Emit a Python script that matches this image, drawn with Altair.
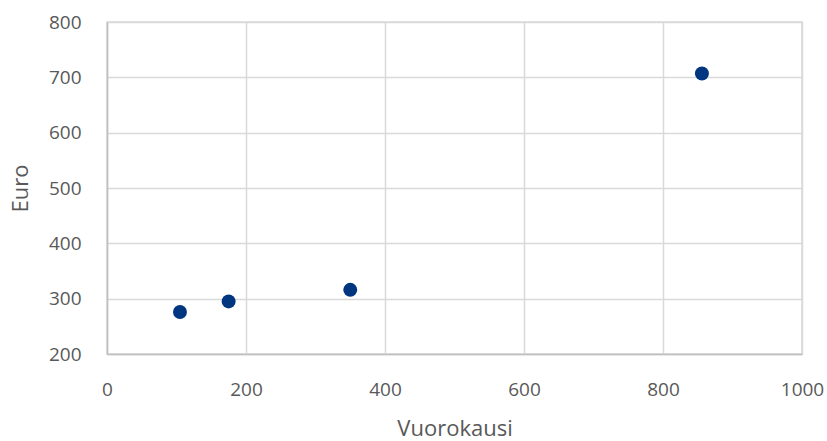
import altair as alt
import pandas as pd

# Length of stay (days) and cost (euro)
vuorokausi = [105, 175, 350, 856]
euro = [276, 295, 316, 707]

df = pd.DataFrame({"Vuorokausi": vuorokausi, "Euro": euro})

font = "Open Sans"
label_color = "#595959"

chart = (
    alt.Chart(df)
    .mark_circle(size=195, color="#003580", opacity=1)
    .encode(
        x=alt.X(
            "Vuorokausi:Q",
            scale=alt.Scale(domain=[0, 1000], nice=False),
            axis=alt.Axis(values=[0, 200, 400, 600, 800, 1000], title="Vuorokausi",
                          format="d", titlePadding=19, labelFlush=False),
        ),
        y=alt.Y(
            "Euro:Q",
            scale=alt.Scale(domain=[200, 800], nice=False, zero=False),
            axis=alt.Axis(values=[200, 300, 400, 500, 600, 700, 800], title="Euro",
                          format="d", titlePadding=16),
        ),
    )
    .properties(
        width=695,
        height=332,
        background="white",
        autosize=alt.AutoSizeParams(type="none"),
        padding={"left": 107, "top": 22, "right": 25, "bottom": 87},
    )
    .configure_view(stroke="#d9d9d9", strokeWidth=1.5)
    .configure_axis(
        grid=True,
        gridColor="#d9d9d9",
        gridWidth=1.5,
        domainColor="#bfbfbf",
        domainWidth=1.5,
        ticks=False,
        labelPadding=26,
        labelFont=font,
        labelFontSize=19,
        labelColor=label_color,
        titleFont=font,
        titleFontSize=22,
        titleFontWeight="normal",
        titleColor=label_color,
    )
)

chart.save("out.html", embed_options={"renderer": "svg", "actions": False})
